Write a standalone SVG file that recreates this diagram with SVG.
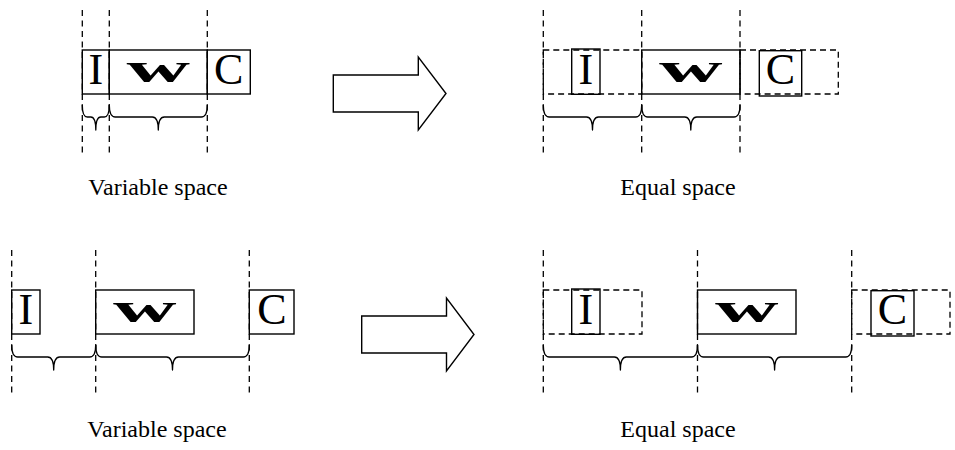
<svg xmlns="http://www.w3.org/2000/svg" width="955" height="450" viewBox="0 0 955 450">
  <style>
    .guide { fill: none; stroke: #000; stroke-width: 1.3; stroke-dasharray: 6 4.5; }
    .dbox { fill: none; stroke: #000; stroke-width: 1.3; stroke-dasharray: 6 4; }
    .box { fill: none; stroke: #000; stroke-width: 1.4; }
    .brace { fill: none; stroke: #000; stroke-width: 1.3; stroke-linecap: round; stroke-linejoin: round; }
    .glyph { font-family: "Liberation Serif", "Times New Roman", serif; font-size: 44px; fill: #000; text-anchor: middle; }
    .wglyph { font-family: "Liberation Serif", "Times New Roman", serif; font-size: 40px; font-weight: bold; fill: #000; text-anchor: middle; }
    .caption { font-family: "Liberation Serif", "Times New Roman", serif; font-size: 24px; fill: #000; text-anchor: middle; }
    .blockarrow { fill: #fff; stroke: #000; stroke-width: 1.4; stroke-linejoin: miter; }
  </style>

  <!-- Top-left: variable spacing -->
  <g id="top-variable">
    <g id="tv-guides">
      <line class="guide" x1="82.3" y1="10" x2="82.3" y2="155"/>
      <line class="guide" x1="109.3" y1="10" x2="109.3" y2="155"/>
      <line class="guide" x1="207.3" y1="10" x2="207.3" y2="155"/>
    </g>
    <g id="tv-I">
      <rect class="box" x="82.3" y="50" width="27" height="44"/>
      <text class="glyph" x="95.8" y="84">I</text>
    </g>
    <g id="tv-w">
      <rect class="box" x="109.3" y="50" width="98" height="44"/>
      <text class="wglyph" transform="translate(158.3,82) scale(2.2,1)">w</text>
    </g>
    <g id="tv-C">
      <rect class="box" x="207.3" y="50" width="43" height="44"/>
      <text class="glyph" x="228.8" y="84">C</text>
    </g>
    <g id="tv-braces">
      <path class="brace" d="M82.3 105 Q82.3 117 87.3 117 L90.8 117 Q95.8 117 95.8 130 Q95.8 117 100.8 117 L104.3 117 Q109.3 117 109.3 105"/>
      <path class="brace" d="M109.3 105 Q109.3 117 115.3 117 L152.3 117 Q158.3 117 158.3 130 Q158.3 117 164.3 117 L201.3 117 Q207.3 117 207.3 105"/>
    </g>
    <text class="caption" x="158" y="195">Variable space</text>
  </g>

  <!-- Top-right: equal spacing -->
  <g id="top-equal">
    <g id="te-guides">
      <line class="guide" x1="543.3" y1="10" x2="543.3" y2="155"/>
      <line class="guide" x1="641.7" y1="10" x2="641.7" y2="155"/>
      <line class="guide" x1="740" y1="10" x2="740" y2="155"/>
    </g>
    <g id="te-I">
      <rect class="dbox" x="543.3" y="50" width="98.4" height="44"/>
      <rect class="box" x="571.7" y="49" width="28.3" height="45.3"/>
      <text class="glyph" x="585.8" y="84">I</text>
    </g>
    <g id="te-w">
      <rect class="box" x="641.7" y="50" width="98.3" height="44"/>
      <text class="wglyph" transform="translate(690.8,82) scale(2.2,1)">w</text>
    </g>
    <g id="te-C">
      <rect class="dbox" x="740" y="50" width="98.3" height="44"/>
      <rect class="box" x="759.3" y="50.7" width="42.4" height="45.3"/>
      <text class="glyph" x="780.5" y="84">C</text>
    </g>
    <g id="te-braces">
      <path class="brace" d="M543.3 105 Q543.3 117 549.3 117 L586.5 117 Q592.5 117 592.5 130 Q592.5 117 598.5 117 L635.7 117 Q641.7 117 641.7 105"/>
      <path class="brace" d="M641.7 105 Q641.7 117 647.7 117 L684.8 117 Q690.8 117 690.8 130 Q690.8 117 696.8 117 L734 117 Q740 117 740 105"/>
    </g>
    <text class="caption" x="678" y="195">Equal space</text>
  </g>

  <!-- Bottom-left: variable spacing -->
  <g id="bottom-variable">
    <g id="bv-guides">
      <line class="guide" x1="11.7" y1="250" x2="11.7" y2="395"/>
      <line class="guide" x1="95.7" y1="250" x2="95.7" y2="395"/>
      <line class="guide" x1="249.3" y1="250" x2="249.3" y2="395"/>
    </g>
    <g id="bv-I">
      <rect class="box" x="11.7" y="290" width="28.3" height="44"/>
      <text class="glyph" x="25.8" y="324">I</text>
    </g>
    <g id="bv-w">
      <rect class="box" x="95.7" y="290" width="98.3" height="44"/>
      <text class="wglyph" transform="translate(144.8,322) scale(2.2,1)">w</text>
    </g>
    <g id="bv-C">
      <rect class="box" x="249.3" y="290" width="44.7" height="44"/>
      <text class="glyph" x="272" y="324">C</text>
    </g>
    <g id="bv-braces">
      <path class="brace" d="M11.7 345 Q11.7 357 17.7 357 L47.7 357 Q53.7 357 53.7 370 Q53.7 357 59.7 357 L89.7 357 Q95.7 357 95.7 345"/>
      <path class="brace" d="M95.7 345 Q95.7 357 101.7 357 L166.5 357 Q172.5 357 172.5 370 Q172.5 357 178.5 357 L243.3 357 Q249.3 357 249.3 345"/>
    </g>
    <text class="caption" x="157" y="437">Variable space</text>
  </g>

  <!-- Bottom-right: equal spacing -->
  <g id="bottom-equal">
    <g id="be-guides">
      <line class="guide" x1="543.3" y1="250" x2="543.3" y2="395"/>
      <line class="guide" x1="697.5" y1="250" x2="697.5" y2="395"/>
      <line class="guide" x1="851.7" y1="250" x2="851.7" y2="395"/>
    </g>
    <g id="be-I">
      <rect class="dbox" x="543.3" y="290" width="98.7" height="44"/>
      <rect class="box" x="571.7" y="289" width="28.3" height="45.3"/>
      <text class="glyph" x="585.8" y="324">I</text>
    </g>
    <g id="be-w">
      <rect class="box" x="697.5" y="290" width="98.5" height="44"/>
      <text class="wglyph" transform="translate(746.7,322) scale(2.2,1)">w</text>
    </g>
    <g id="be-C">
      <rect class="dbox" x="851.7" y="290" width="98.3" height="44"/>
      <rect class="box" x="871" y="290.7" width="43" height="45.3"/>
      <text class="glyph" x="892.5" y="324">C</text>
    </g>
    <g id="be-braces">
      <path class="brace" d="M543.3 345 Q543.3 357 549.3 357 L614.4 357 Q620.4 357 620.4 370 Q620.4 357 626.4 357 L691.5 357 Q697.5 357 697.5 345"/>
      <path class="brace" d="M697.5 345 Q697.5 357 703.5 357 L768.6 357 Q774.6 357 774.6 370 Q774.6 357 780.6 357 L845.7 357 Q851.7 357 851.7 345"/>
    </g>
    <text class="caption" x="678" y="437">Equal space</text>
  </g>

  <!-- Transformation arrows -->
  <g id="connectors">
    <path class="blockarrow" d="M333.3 75 L418.3 75 L418.3 57 L446 93.5 L418.3 130 L418.3 112 L333.3 112 Z"/>
    <path class="blockarrow" d="M361.7 316 L446.5 316 L446.5 298 L474 334.5 L446.5 371 L446.5 353 L361.7 353 Z"/>
  </g>
</svg>
